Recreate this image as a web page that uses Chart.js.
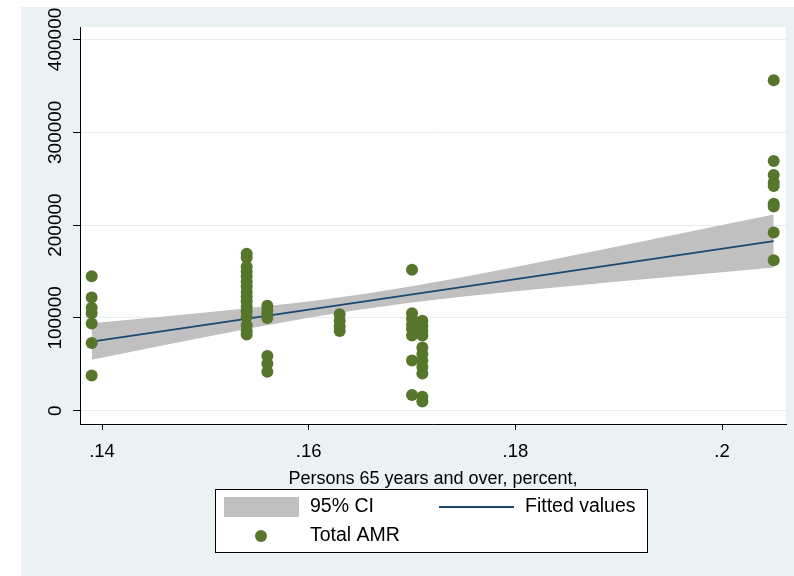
<!DOCTYPE html>
<html>
<head>
<meta charset="utf-8">
<script src="https://cdn.jsdelivr.net/npm/chart.js@4.4.1/dist/chart.umd.min.js"></script>
<style>
  html, body { margin: 0; padding: 0; background: #ffffff; }
  #wrap { width: 794px; height: 576px; }
</style>
</head>
<body>
<div id="wrap"><canvas id="chart" width="794" height="576"></canvas></div>
<script>
// Share of persons aged 65+ (x) and the Total AMR observed at each share level
const ageShareLevels = [0.139, 0.154, 0.156, 0.163, 0.170, 0.171, 0.205];
const amrAt139 = [145000, 122000, 111000, 105000, 94000, 73000, 38000];
const amrAt154 = [169000, 165000, 155000, 150000, 145000, 139000, 134000, 128000, 123000, 118000, 112000, 107000, 101000, 92000, 86000, 82000];
const amrAt156 = [113000, 108000, 104000, 100000, 59000, 51000, 42000];
const amrAt163 = [104000, 97000, 91000, 86000];
const amrAt170 = [152000, 105000, 99000, 93000, 88000, 81000, 54000, 17000];
const amrAt171 = [97000, 91000, 86000, 81000, 68000, 61000, 54000, 47000, 40000, 15000, 10000];
const amrAt205 = [356000, 269000, 254000, 246000, 242000, 223000, 220000, 192000, 162000];
const amrGroups = [amrAt139, amrAt154, amrAt156, amrAt163, amrAt170, amrAt171, amrAt205];

// Linear fit and its 95% confidence band
const fitX = [0.139, 0.205];
const fitY = [74500, 182800];
const ciX     = [0.139, 0.145, 0.150, 0.155, 0.160, 0.165, 0.170, 0.175, 0.180, 0.190, 0.200, 0.205];
const ciUpper = [94200, 100400, 105700, 111400, 117700, 125200, 134100, 144100, 154800, 177100, 200000, 211500];
const ciLower = [54800, 68300, 79400, 90100, 100200, 109100, 116700, 123000, 128700, 139200, 149200, 154200];

// Axis ticks
const xTicks = [0.14, 0.16, 0.18, 0.20];
const xTickLabels = ['.14', '.16', '.18', '.2'];
const yTicks = [0, 100000, 200000, 300000, 400000];

const seriesLabels = ['95% CI', 'Fitted values', 'Total AMR'];
const xTitle = 'Persons 65 years and over, percent,';

const FONT = "'Liberation Sans', Arial, Helvetica, sans-serif";
const BG = '#eaf2f3';
const GREEN = '#56762b';
const NAVY = '#1a476f';
const BAND = '#c0c0c0';

const points = [];
ageShareLevels.forEach((x, i) => amrGroups[i].forEach(y => points.push({ x, y })));
const fitPts = fitX.map((x, i) => ({ x, y: fitY[i] }));
const upperPts = ciX.map((x, i) => ({ x, y: ciUpper[i] }));
const lowerPts = ciX.map((x, i) => ({ x, y: ciLower[i] }));

// Page background and the white plot region
const backdrop = {
  id: 'backdrop',
  beforeDraw(chart) {
    const { ctx, chartArea: a } = chart;
    ctx.save();
    ctx.fillStyle = '#ffffff';
    ctx.fillRect(0, 0, chart.width, chart.height);
    ctx.fillStyle = BG;
    ctx.fillRect(21, 7, chart.width - 21, chart.height - 7);
    ctx.fillStyle = '#ffffff';
    ctx.fillRect(a.left, a.top, a.right - a.left, a.bottom - a.top);
    ctx.restore();
  }
};

// Boxed two-column legend below the axis title
const boxLegend = {
  id: 'boxLegend',
  afterDraw(chart) {
    const ctx = chart.ctx;
    const ds = chart.data.datasets;
    const band = ds.find(d => d.label === seriesLabels[0]);
    const fit = ds.find(d => d.label === seriesLabels[1]);
    const sc = ds.find(d => d.label === seriesLabels[2]);
    const bx = 215.5, by = 489.5, bw = 432, bh = 63;
    ctx.save();
    ctx.fillStyle = '#ffffff';
    ctx.fillRect(bx, by, bw, bh);
    ctx.strokeStyle = '#000000';
    ctx.lineWidth = 1;
    ctx.strokeRect(bx, by, bw, bh);

    const row1 = 507, row2 = 536;
    ctx.fillStyle = band.backgroundColor;
    ctx.fillRect(224, 497, 75, 20);

    ctx.strokeStyle = fit.borderColor;
    ctx.lineWidth = fit.borderWidth;
    ctx.beginPath();
    ctx.moveTo(439, row1);
    ctx.lineTo(514, row1);
    ctx.stroke();

    ctx.fillStyle = sc.backgroundColor;
    ctx.beginPath();
    ctx.arc(261, row2, sc.pointRadius, 0, Math.PI * 2);
    ctx.fill();

    ctx.fillStyle = '#000000';
    ctx.font = '19.5px ' + FONT;
    ctx.textBaseline = 'middle';
    ctx.textAlign = 'left';
    ctx.fillText(band.label, 310, row1);
    ctx.fillText(fit.label, 525, row1);
    ctx.fillText(sc.label, 310, row2);
    ctx.restore();
  }
};

Chart.defaults.font.family = FONT;
Chart.defaults.font.size = 18;
Chart.defaults.color = '#000000';

new Chart(document.getElementById('chart'), {
  type: 'scatter',
  data: {
    datasets: [
      {
        label: seriesLabels[2],
        data: points,
        backgroundColor: GREEN,
        borderWidth: 0,
        pointRadius: 6,
        pointHoverRadius: 6,
        order: 0
      },
      {
        label: seriesLabels[1],
        data: fitPts,
        showLine: true,
        borderColor: NAVY,
        borderWidth: 1.8,
        pointRadius: 0,
        fill: false,
        order: 1
      },
      {
        label: seriesLabels[0],
        data: upperPts,
        showLine: true,
        borderWidth: 0,
        borderColor: 'rgba(0,0,0,0)',
        backgroundColor: BAND,
        pointRadius: 0,
        fill: '+1',
        order: 2
      },
      {
        label: 'ci-lower',
        data: lowerPts,
        showLine: true,
        borderWidth: 0,
        borderColor: 'rgba(0,0,0,0)',
        backgroundColor: BAND,
        pointRadius: 0,
        fill: false,
        order: 3
      }
    ]
  },
  options: {
    responsive: false,
    animation: false,
    events: [],
    layout: { padding: { left: 0, top: 27, right: 8, bottom: 86 } },
    plugins: {
      legend: { display: false },
      tooltip: { enabled: false },
      filler: { propagate: false }
    },
    scales: {
      x: {
        type: 'linear',
        min: 0.13787,
        max: 0.20619,
        afterBuildTicks: s => { s.ticks = xTicks.map(v => ({ value: v })); },
        afterFit: s => { s.height = 66; },
        ticks: {
          callback: (v) => xTickLabels[xTicks.findIndex(t => Math.abs(t - v) < 1e-9)],
          padding: 11,
          maxRotation: 0,
          minRotation: 0,
          font: { size: 18.5 }
        },
        grid: { display: true, drawOnChartArea: false, drawTicks: true, tickLength: 6, tickColor: '#000000' },
        border: { display: true, color: '#000000', width: 1 },
        title: { display: true, text: xTitle, font: { size: 18 }, padding: { top: 0, bottom: 0 } }
      },
      y: {
        type: 'linear',
        min: -14300,
        max: 413400,
        afterBuildTicks: s => { s.ticks = yTicks.map(v => ({ value: v })); },
        afterFit: s => { s.width = 80; },
        ticks: {
          callback: v => String(v),
          minRotation: 90,
          maxRotation: 90,
          crossAlign: 'center',
          padding: -14,
          font: { size: 19 }
        },
        grid: { display: true, color: '#e4eef0', lineWidth: 1, drawTicks: true, tickLength: 7, tickColor: '#000000' },
        border: { display: true, color: '#000000', width: 1 }
      }
    }
  },
  plugins: [backdrop, boxLegend]
});
</script>
</body>
</html>
